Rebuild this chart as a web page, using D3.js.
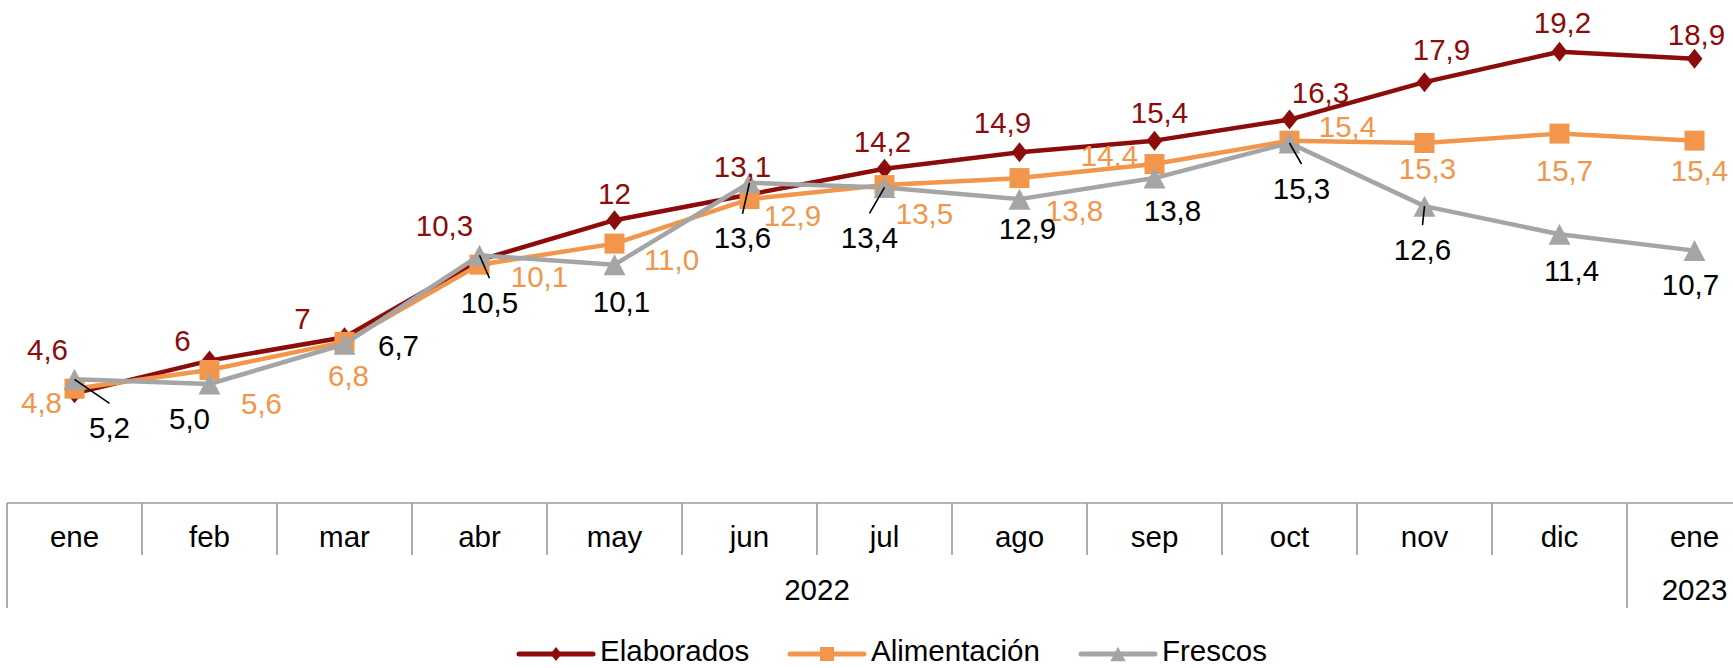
<!DOCTYPE html>
<html>
<head>
<meta charset="utf-8">
<script src="https://cdn.jsdelivr.net/npm/d3@7"></script>
<style>
  body { margin: 0; background: #fff; }
  svg { display: block; font-family: "Liberation Sans", Arial, sans-serif; }
</style>
</head>
<body>
<svg id="chart" width="1733" height="668"></svg>
<script>
// data
const months = ["ene", "feb", "mar", "abr", "may", "jun", "jul", "ago", "sep", "oct", "nov", "dic", "ene"]
const years = ["2022", "2023"]
const yearSpans = [12, 1]

const elaborados = [4.6, 6, 7, 10.3, 12, 13.1, 14.2, 14.9, 15.4, 16.3, 17.9, 19.2, 18.9]
const alimentacion = [4.8, 5.6, 6.8, 10.1, 11.0, 12.9, 13.5, 13.8, 14.4, 15.4, 15.3, 15.7, 15.4]
const frescos = [5.2, 5.0, 6.7, 10.5, 10.1, 13.6, 13.4, 12.9, 13.8, 15.3, 12.6, 11.4, 10.7]

// label placement (offset of label centre from its marker)
const elabOffsets = [[-27, -44], [-27, -20], [-42, -19], [-35, -35], [0, -27], [-7, -28], [-2, -27],
  [-17, -30], [5, -28], [31, -27], [17, -33], [3, -29], [2, -24]]
const alimOffsets = [[-33, 14], [52, 33], [4, 33], [60, 12], [57, 16], [43, 16], [40, 28],
  [55, 32], [-45, -9], [58, -14], [3, 25], [5, 37], [5, 30]]
const frescOffsets = [[35, 48], [-20, 34], [54, 1], [10, 47], [7, 37], [-7, 55], [-15, 50],
  [8, 29], [18, 32], [12, 45], [-2, 43], [12, 36], [-4, 34]]
const frescLeaders = [true, false, false, true, false, true, true, false, false, true, true, false, false]

const svg = d3.select("#chart")
const width = 1733, height = 668
const fontSize = 29.5

const x = d3.scaleBand()
    .domain(d3.range(months.length))
    .range([7, 7 + 135 * months.length])
const y = d3.scaleLinear()
    .domain([0, 20])
    .range([501, 33])

const axisY = 503
const axisColor = "#9a9a9a"

const comma = d => String(d).replace(".", ",")
const oneDec = d => d3.format(".1f")(d).replace(".", ",")

const diamond = "M0,-10L8,0L0,10L-8,0Z"
const square = "M-10,-10H10V10H-10Z"
const triangle = "M0,-10.5L11,10.5L-11,10.5Z"

const series = [
    { name: "Elaborados", values: elaborados, color: "#8c0b0b", label: "#8c0b0b", marker: diamond, fmt: comma, offsets: elabOffsets },
    { name: "Alimentación", values: alimentacion, color: "#f1964a", label: "#f1964a", marker: square, fmt: oneDec, offsets: alimOffsets },
    { name: "Frescos", values: frescos, color: "#a5a5a5", label: "#000", marker: triangle, fmt: oneDec, offsets: frescOffsets, leaders: frescLeaders }
]

function cx(i) { return x(i) + x.bandwidth() / 2 }

// category axis: month row + year row
const axisG = svg.append("g")
    .attr("transform", "translate(0," + axisY + ")")
    .call(d3.axisBottom(x).tickSize(0).tickPadding(0).tickFormat(i => months[i]))
axisG.select(".domain").remove()
axisG.selectAll("text")
    .attr("font-size", fontSize)
    .attr("font-family", "Liberation Sans, Arial, sans-serif")
    .attr("fill", "#000")
    .attr("dy", null)
    .attr("y", 44)

svg.append("line")
    .attr("x1", x.range()[0]).attr("x2", width)
    .attr("y1", axisY).attr("y2", axisY)
    .attr("stroke", axisColor).attr("stroke-width", 1.6)

// year boundaries
let yearStarts = [0]
yearSpans.forEach((s, k) => yearStarts.push(yearStarts[k] + s))
const bounds = d3.range(months.length + 1)
svg.selectAll(".divider")
    .data(bounds)
    .join("line")
    .attr("class", "divider")
    .attr("x1", i => x(0) + i * x.step())
    .attr("x2", i => x(0) + i * x.step())
    .attr("y1", axisY)
    .attr("y2", i => yearStarts.includes(i) ? 608 : 555)
    .attr("stroke", axisColor).attr("stroke-width", 1.6)

svg.selectAll(".year")
    .data(years)
    .join("text")
    .attr("class", "year")
    .attr("x", (d, k) => x(0) + (yearStarts[k] + yearSpans[k] / 2) * x.step())
    .attr("y", 600)
    .attr("text-anchor", "middle")
    .attr("font-size", fontSize)
    .text(d => d)

// lines and markers
const line = d3.line()
    .x((d, i) => cx(i))
    .y(d => y(d))

series.forEach(s => {
    svg.append("path")
        .attr("d", line(s.values))
        .attr("fill", "none")
        .attr("stroke", s.color)
        .attr("stroke-width", 4.5)
        .attr("stroke-linejoin", "round")
    svg.append("g").selectAll("path")
        .data(s.values)
        .join("path")
        .attr("d", s.marker)
        .attr("transform", (d, i) => "translate(" + cx(i) + "," + y(d) + ")")
        .attr("fill", s.color)
})

// leader lines and data labels
series.forEach(s => {
    if (s.leaders) {
        svg.append("g").selectAll("line")
            .data(s.values.map((v, i) => i).filter(i => s.leaders[i]))
            .join("line")
            .attr("x1", i => cx(i))
            .attr("y1", i => y(s.values[i]))
            .attr("x2", i => cx(i) + s.offsets[i][0])
            .attr("y2", i => y(s.values[i]) + s.offsets[i][1] - 24)
            .attr("stroke", "#000")
            .attr("stroke-width", 1.6)
    }
    svg.append("g").selectAll("text")
        .data(s.values)
        .join("text")
        .attr("x", (d, i) => cx(i) + s.offsets[i][0])
        .attr("y", (d, i) => y(d) + s.offsets[i][1])
        .attr("dy", "0.36em")
        .attr("text-anchor", "middle")
        .attr("font-size", fontSize)
        .attr("fill", s.label)
        .text(d => s.fmt(d))
})

// legend
const legendX = [519, 790, 1081]
const legend = svg.selectAll(".legend")
    .data(series)
    .join("g")
    .attr("class", "legend")
    .attr("transform", (d, k) => "translate(" + legendX[k] + ",654)")
legend.append("line")
    .attr("x1", 0).attr("x2", 74)
    .attr("stroke", d => d.color)
    .attr("stroke-width", 5)
    .attr("stroke-linecap", "round")
legend.append("path")
    .attr("d", d => d.marker)
    .attr("transform", "translate(37,0) scale(0.7)")
    .attr("fill", d => d.color)
legend.append("text")
    .attr("x", 81)
    .attr("y", 7)
    .attr("font-size", fontSize)
    .text(d => d.name)
</script>
</body>
</html>
